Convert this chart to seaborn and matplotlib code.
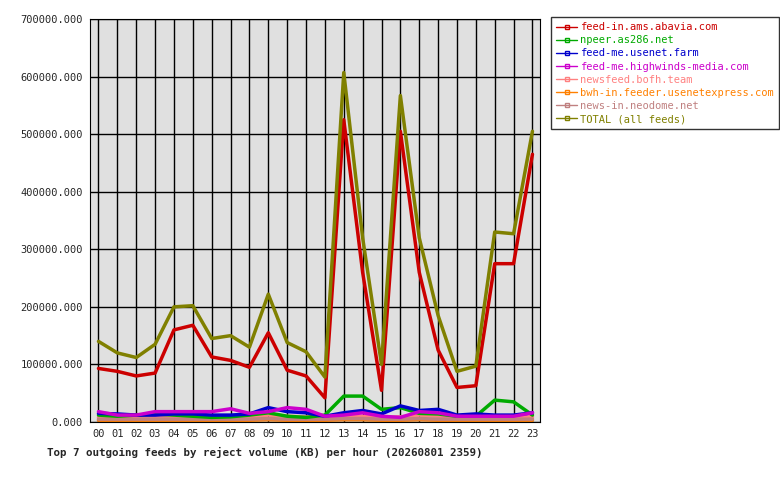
import matplotlib
matplotlib.use("Agg")
import matplotlib.pyplot as plt
import seaborn as sns
import pandas as pd

hours = [f"{h:02d}" for h in range(24)]
names = ["feed-in.ams.abavia.com", "npeer.as286.net", "feed-me.usenet.farm",
         "feed-me.highwinds-media.com", "newsfeed.bofh.team",
         "bwh-in.feeder.usenetexpress.com", "news-in.neodome.net", "TOTAL (all feeds)"]
colors = ["#cc0000", "#00aa00", "#0000cc", "#cc00cc", "#ff8080", "#ff8000", "#c08080", "#808000"]
abavia = [93000, 88000, 80000, 85000, 160000, 168000, 113000, 107000, 95000, 155000, 90000, 80000,
          42000, 525000, 260000, 55000, 505000, 260000, 125000, 60000, 63000, 275000, 275000, 465000]
as286 = [12000, 10000, 12000, 14000, 12000, 10000, 8000, 9000, 12000, 16000, 10000, 8000,
         12000, 45000, 45000, 22000, 25000, 15000, 14000, 10000, 10000, 38000, 35000, 12000]
farm = [15000, 14000, 12000, 12000, 14000, 14000, 12000, 12000, 14000, 25000, 18000, 16000,
        10000, 16000, 20000, 14000, 28000, 20000, 22000, 12000, 14000, 12000, 12000, 16000]
highwinds = [18000, 12000, 12000, 18000, 18000, 18000, 18000, 23000, 15000, 18000, 25000, 22000,
             10000, 12000, 16000, 10000, 8000, 18000, 16000, 10000, 10000, 10000, 10000, 16000]
bofh = [8000, 7000, 7000, 8000, 8000, 8000, 9000, 10000, 9000, 12000, 10000, 9000,
        8000, 9000, 10000, 8000, 9000, 12000, 10000, 8000, 8000, 8000, 8000, 9000]
uxp = [3000, 3000, 3000, 3000, 2000, 3000, 3000, 3000, 3000, 4000, 3000, 3000,
       3000, 4000, 4000, 3000, 3000, 4000, 3000, 3000, 3000, 3000, 3000, 3000]
neodome = [5000, 5000, 5000, 5000, 5000, 5000, 5000, 5000, 5000, 6000, 5000, 5000,
           5000, 6000, 6000, 5000, 5000, 6000, 5000, 5000, 5000, 5000, 5000, 5000]
total = [140000, 120000, 112000, 135000, 200000, 202000, 145000, 150000, 130000, 222000, 138000, 122000,
         78000, 607000, 320000, 100000, 567000, 320000, 185000, 88000, 97000, 330000, 327000, 505000]

series = [abavia, as286, farm, highwinds, bofh, uxp, neodome, total]
rows = []
for n, vals in zip(names, series):
    for i, v in enumerate(vals):
        rows.append({"hour": i, "feed": n, "kb": v})
df = pd.DataFrame(rows)

sns.set_style("white")
plt.rcParams["font.family"] = ["DejaVu Sans Mono"]
fig = plt.figure(figsize=(7.8, 4.8), dpi=100)
ax = fig.add_axes([90/780, 58/480, 450/780, 403/480])
ax.set_facecolor("#e0e0e0")
draw = [4, 5, 6, 1, 2, 3, 0, 7]
for k in draw:
    sns.lineplot(data=df[df.feed == names[k]], x="hour", y="kb", color=colors[k], lw=2.5,
                 ax=ax, legend=False)
ax.set_xlim(-0.45, 23.4)
ax.set_ylim(0, 700000)
ax.set_xticks(range(24))
ax.set_xticklabels(hours, fontsize=7.5)
ax.set_yticks(range(0, 700001, 100000))
ax.set_yticklabels([f"{v}.000" for v in range(0, 700001, 100000)], fontsize=7.5)
ax.grid(True, color="black", lw=1)
ax.set_axisbelow(True)
for s in ax.spines.values():
    s.set_color("black")
ax.tick_params(length=3, color="black", pad=2)
ax.set_xlabel("")
ax.set_ylabel("")
fig.text(47/780, 1 - 452/480, "Top 7 outgoing feeds by reject volume (KB) per hour (20260801 2359)",
         fontsize=7.8, fontweight="bold", va="center", ha="left")
handles = [plt.Line2D([], [], color=colors[k], lw=1, marker="s", markersize=2.5,
                      markerfacecolor="none") for k in range(8)]
leg = fig.legend(handles, names, loc="upper left", bbox_to_anchor=(551/780, 1-17/480),
                 fontsize=7.5, frameon=True, fancybox=False, edgecolor="black",
                 handlelength=2, handletextpad=0.3, labelspacing=0.3, borderpad=0.5,
                 borderaxespad=0)
leg.get_frame().set_linewidth(1)
for t, c in zip(leg.get_texts(), colors):
    t.set_color(c)
fig.savefig("out.png", dpi=100)
